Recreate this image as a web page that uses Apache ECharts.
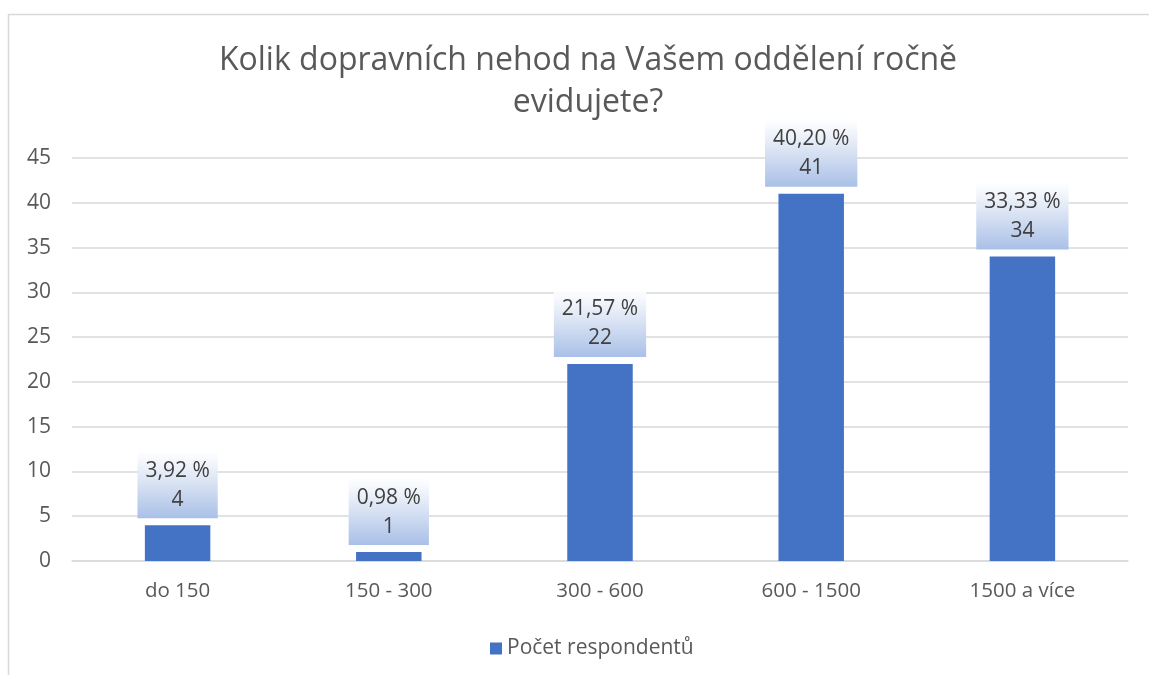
<!DOCTYPE html>
<html>
<head>
<meta charset="utf-8">
<script src="https://cdn.jsdelivr.net/npm/echarts@6/dist/echarts.min.js"></script>
<style>
  html, body { margin: 0; padding: 0; background: #fff; }
  #chart { width: 1149px; height: 675px; }
</style>
</head>
<body>
<div id="chart"></div>
<script>
// data
const categories = ['do 150', '150 - 300', '300 - 600', '600 - 1500', '1500 a více'];
const counts = [4, 1, 22, 41, 34];
const percentLabels = ['3,92 %', '0,98 %', '21,57 %', '40,20 %', '33,33 %'];
const yTicks = { min: 0, max: 45, step: 5 };

const fontFamily = '"Open Sans", Lato, sans-serif';

const chart = echarts.init(document.getElementById('chart'));

chart.setOption({
  animation: false,
  textStyle: { fontFamily },
  graphic: [{
    type: 'rect',
    shape: { x: 8.5, y: 14.5, width: 1300, height: 800 },
    style: { fill: 'none', stroke: '#d9d9d9', lineWidth: 1.5 },
    silent: true
  }],
  title: {
    text: 'Kolik dopravních nehod na Vašem oddělení ročně\nevidujete?',
    left: 583,
    top: 35,
    textAlign: 'center',
    textStyle: {
      fontFamily,
      fontSize: 32,
      fontWeight: 'normal',
      color: '#595959',
      lineHeight: 42
    }
  },
  legend: {
    left: 485,
    top: 633,
    icon: 'rect',
    itemWidth: 12,
    itemHeight: 12,
    itemGap: 6,
    textStyle: { fontFamily, fontSize: 21, color: '#595959' },
    data: ['Počet respondentů']
  },
  grid: { left: 72, right: 21, top: 158, bottom: 114, containLabel: false },
  xAxis: {
    type: 'category',
    data: categories,
    axisTick: { show: false },
    axisLine: { lineStyle: { color: '#d9d9d9', width: 1.5 } },
    axisLabel: { fontFamily, fontSize: 20.5, color: '#595959', margin: 20 }
  },
  yAxis: {
    type: 'value',
    min: yTicks.min,
    max: yTicks.max,
    interval: yTicks.step,
    axisLine: { show: false },
    axisTick: { show: false },
    splitLine: { lineStyle: { color: '#d9d9d9', width: 1.5 } },
    axisLabel: { fontFamily, fontSize: 21, color: '#595959', margin: 21 }
  },
  series: [{
    name: 'Počet respondentů',
    type: 'bar',
    data: counts,
    barWidth: '31%',
    itemStyle: { color: '#4472c4' },
    label: {
      show: true,
      position: 'top',
      distance: 7,
      formatter: p => percentLabels[p.dataIndex] + '\n' + p.value,
      fontFamily,
      fontSize: 21,
      lineHeight: 29,
      color: '#404040',
      padding: [5, 8, 4, 8],
      backgroundColor: new echarts.graphic.LinearGradient(0, 0, 0, 1, [
        { offset: 0, color: 'rgba(255,255,255,0.9)' },
        { offset: 0.45, color: '#dbe4f4' },
        { offset: 1, color: '#a9c0e7' }
      ])
    }
  }]
});
</script>
</body>
</html>
